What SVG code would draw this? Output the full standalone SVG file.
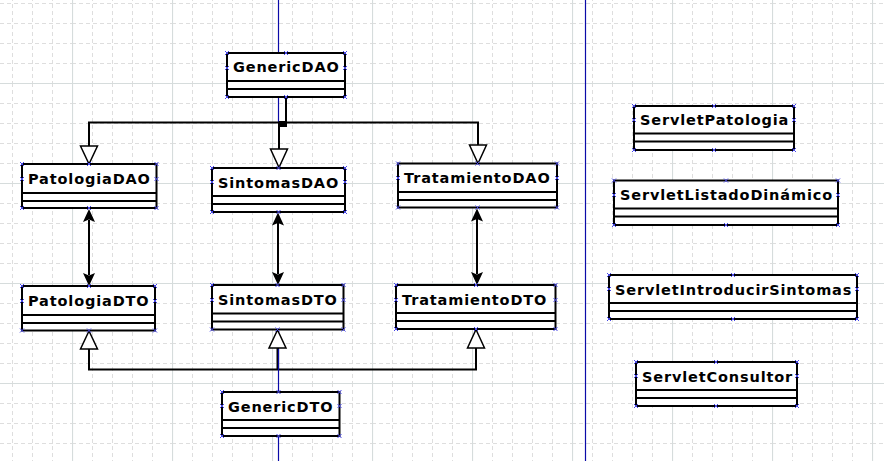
<svg xmlns="http://www.w3.org/2000/svg" width="884" height="461" viewBox="0 0 884 461">
<style>
.box rect{fill:#fff;stroke:#000;stroke-width:2}
.box line{stroke:#000;stroke-width:2}
.box text{font-family:"DejaVu Sans",sans-serif;font-weight:bold;font-size:14.5px;letter-spacing:0.85px;fill:#000}
.hd{fill:none;stroke:none;marker-start:url(#hx);marker-mid:url(#hx);marker-end:url(#hx)}
.ln{fill:none;stroke:#000;stroke-width:2}
.blue{fill:none;stroke:#0a0aa8;stroke-width:1.2}
.tri{fill:#fff;stroke:#000;stroke-width:1.5}
.ar{fill:#000;stroke:none}
</style>
<defs>
<pattern id="grid" patternUnits="userSpaceOnUse" x="72" y="83" width="100" height="100">
<g stroke="#dedede" stroke-width="1" stroke-dasharray="4 3">
<line x1="20.5" y1="0" x2="20.5" y2="100"/><line x1="40.5" y1="0" x2="40.5" y2="100"/><line x1="60.5" y1="0" x2="60.5" y2="100"/><line x1="80.5" y1="0" x2="80.5" y2="100"/>
<line x1="0" y1="20.5" x2="100" y2="20.5"/><line x1="0" y1="40.5" x2="100" y2="40.5"/><line x1="0" y1="60.5" x2="100" y2="60.5"/><line x1="0" y1="80.5" x2="100" y2="80.5"/>
</g>
<g stroke="#d6dcdc" stroke-width="1.2">
<line x1="0.5" y1="0" x2="0.5" y2="100"/><line x1="0" y1="0.5" x2="100" y2="0.5"/>
</g>
</pattern>
<marker id="hx" markerUnits="userSpaceOnUse" markerWidth="6" markerHeight="6" refX="3" refY="3" viewBox="0 0 6 6" overflow="visible">
<path d="M1,1L5,5M5,1L1,5" stroke="#4848e8" stroke-width="1" fill="none"/>
</marker>
</defs>
<rect width="884" height="461" fill="#fff"/>
<rect width="884" height="461" fill="url(#grid)"/>

<g id="connectors">
<line class="blue" x1="585.5" y1="0" x2="585.5" y2="461"/>
<line class="blue" x1="278.5" y1="0" x2="278.5" y2="53"/>
<line class="blue" x1="278.5" y1="97" x2="278.5" y2="122"/>
<!-- DAO inheritance bus -->
<polyline class="ln" points="286,97 286,123"/>
<rect x="279" y="121" width="8" height="6" fill="#000"/>
<polyline class="ln" points="89,146 89,122.5 478,122.5 478,145"/>
<line class="ln" x1="279" y1="122" x2="279" y2="149"/>
<path class="tri" d="M89,164 L80.5,146 L97.5,146 Z"/>
<path class="tri" d="M279,167.5 L270.5,149 L287.5,149 Z"/>
<path class="tri" d="M478,163.5 L469.5,145 L486.5,145 Z"/>
<!-- bidirectional associations -->
<line class="ln" x1="89" y1="220" x2="89" y2="275"/>
<path class="ar" d="M89,209 L95,222 L89,219.5 L83,222 Z"/>
<path class="ar" d="M89,286 L95,273 L89,275.5 L83,273 Z"/>
<line class="ln" x1="278" y1="223" x2="278" y2="274"/>
<path class="ar" d="M278,212.5 L284,225.5 L278,223 L272,225.5 Z"/>
<path class="ar" d="M278,285 L284,272 L278,274.5 L272,272 Z"/>
<line class="ln" x1="477" y1="219" x2="477" y2="274"/>
<path class="ar" d="M477,208.5 L483,221.5 L477,219 L471,221.5 Z"/>
<path class="ar" d="M477,285 L483,272 L477,274.5 L471,272 Z"/>
<!-- DTO inheritance bus -->
<polyline class="ln" points="89,349 89,369.5 476,369.5 476,348"/>
<line x1="277.8" y1="348" x2="277.8" y2="369" stroke="#000" stroke-width="2.6"/>
<line class="blue" x1="278.5" y1="349" x2="278.5" y2="392"/>
<line class="blue" x1="278.5" y1="436" x2="278.5" y2="461"/>
<path class="tri" d="M89,331 L80.5,349 L97.5,349 Z"/>
<path class="tri" d="M277.5,330 L269,348 L286,348 Z"/>
<path class="tri" d="M476,329.5 L467.5,348 L484.5,348 Z"/>
</g>

<g id="GenericDAO" class="box">
<rect x="227" y="53" width="118" height="44"/>
<line x1="227" y1="81" x2="345" y2="81"/><line x1="227" y1="89" x2="345" y2="89"/>
<text x="233" y="72">GenericDAO</text>
<path class="hd" d="M227,53L286,53L345,53L345,68L345,97L286,97L227,97L227,68"/>
</g>

<g id="PatologiaDAO" class="box">
<rect x="22" y="164" width="134.5" height="44"/>
<line x1="22" y1="193" x2="156.5" y2="193"/><line x1="22" y1="201" x2="156.5" y2="201"/>
<text x="28" y="184">PatologiaDAO</text>
<path class="hd" d="M22,164L89,164L156.5,164L156.5,179L156.5,208L89,208L22,208L22,179"/>
</g>

<g id="SintomasDAO" class="box">
<rect x="212" y="168" width="133" height="44"/>
<line x1="212" y1="196" x2="345" y2="196"/><line x1="212" y1="204" x2="345" y2="204"/>
<text x="218" y="187.5">SintomasDAO</text>
<path class="hd" d="M212,168L278.5,168L345,168L345,182L345,212L278.5,212L212,212L212,182"/>
</g>

<g id="TratamientoDAO" class="box">
<rect x="398" y="163.5" width="159" height="44"/>
<line x1="398" y1="192" x2="557" y2="192"/><line x1="398" y1="200" x2="557" y2="200"/>
<text x="404" y="183">TratamientoDAO</text>
<path class="hd" d="M398,163.5L477.5,163.5L557,163.5L557,178L557,207.5L477.5,207.5L398,207.5L398,178"/>
</g>

<g id="PatologiaDTO" class="box">
<rect x="22" y="286" width="133" height="44.5"/>
<line x1="22" y1="315" x2="155" y2="315"/><line x1="22" y1="323" x2="155" y2="323"/>
<text x="28" y="305.5">PatologiaDTO</text>
<path class="hd" d="M22,286L89,286L155,286L155,301L155,330.5L89,330.5L22,330.5L22,301"/>
</g>

<g id="SintomasDTO" class="box">
<rect x="212" y="285" width="131.5" height="44.5"/>
<line x1="212" y1="313.5" x2="343.5" y2="313.5"/><line x1="212" y1="321.5" x2="343.5" y2="321.5"/>
<text x="218" y="304.5">SintomasDTO</text>
<path class="hd" d="M212,285L277.5,285L343.5,285L343.5,300L343.5,329.5L277.5,329.5L212,329.5L212,300"/>
</g>

<g id="TratamientoDTO" class="box">
<rect x="396" y="285" width="159.5" height="44"/>
<line x1="396" y1="313" x2="555.5" y2="313"/><line x1="396" y1="321" x2="555.5" y2="321"/>
<text x="402" y="304.5">TratamientoDTO</text>
<path class="hd" d="M396,285L476,285L555.5,285L555.5,300L555.5,329L476,329L396,329L396,300"/>
</g>

<g id="GenericDTO" class="box">
<rect x="222" y="392" width="117.5" height="44"/>
<line x1="222" y1="420" x2="339.5" y2="420"/><line x1="222" y1="428" x2="339.5" y2="428"/>
<text x="228" y="411.5">GenericDTO</text>
<path class="hd" d="M222,392L278.5,392L339.5,392L339.5,406L339.5,436L278.5,436L222,436L222,406"/>
</g>

<g id="ServletPatologia" class="box">
<rect x="634" y="106" width="160" height="44"/>
<line x1="634" y1="133.5" x2="794" y2="133.5"/><line x1="634" y1="141.5" x2="794" y2="141.5"/>
<text x="640" y="125">ServletPatologia</text>
<path class="hd" d="M634,106L714,106L794,106L794,120L794,150L714,150L634,150L634,120"/>
</g>

<g id="ServletListadoDinamico" class="box">
<rect x="614" y="180.5" width="224" height="44.5"/>
<line x1="614" y1="208.5" x2="838" y2="208.5"/><line x1="614" y1="216.5" x2="838" y2="216.5"/>
<text x="620" y="200">ServletListadoDinámico</text>
<path class="hd" d="M614,180.5L726,180.5L838,180.5L838,195L838,225L726,225L614,225L614,195"/>
</g>

<g id="ServletIntroducirSintomas" class="box">
<rect x="609" y="275" width="248" height="44"/>
<line x1="609" y1="303" x2="857" y2="303"/><line x1="609" y1="311" x2="857" y2="311"/>
<text x="615" y="294.5">ServletIntroducirSintomas</text>
<path class="hd" d="M609,275L733,275L857,275L857,289L857,319L733,319L609,319L609,289"/>
</g>

<g id="ServletConsultor" class="box">
<rect x="636" y="362" width="161" height="44"/>
<line x1="636" y1="390" x2="797" y2="390"/><line x1="636" y1="398" x2="797" y2="398"/>
<text x="642" y="381.5">ServletConsultor</text>
<path class="hd" d="M636,362L716,362L797,362L797,376L797,406L716,406L636,406L636,376"/>
</g>
</svg>
